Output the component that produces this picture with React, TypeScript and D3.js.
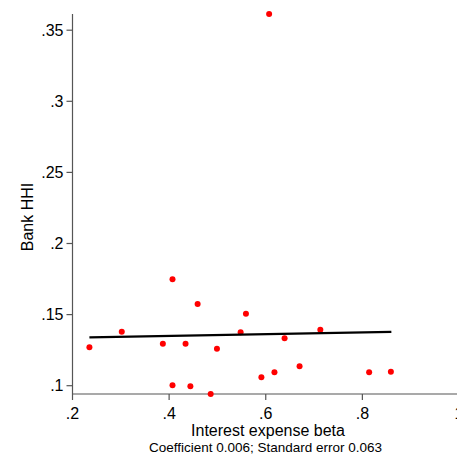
import React from "react";
import * as d3 from "d3";

// interest expense beta vs bank HHI, one dot per group
const betaVals = [0.235, 0.302, 0.387, 0.407, 0.434, 0.459, 0.499, 0.407, 0.444, 0.486,
  0.559, 0.548, 0.713, 0.639, 0.591, 0.618, 0.670, 0.814, 0.859, 0.607];
const hhiVals = [0.1270, 0.1380, 0.1295, 0.1748, 0.1295, 0.1575, 0.1260, 0.1003, 0.0996, 0.0942,
  0.1506, 0.1376, 0.1394, 0.1333, 0.1059, 0.1094, 0.1136, 0.1094, 0.1098, 0.3614];

const xTicks = [0.2, 0.4, 0.6, 0.8, 1];
const yTicks = [0.1, 0.15, 0.2, 0.25, 0.3, 0.35];

// fitted line: coefficient 0.006
const fitX = [0.235, 0.86];
const fitY = [0.1340, 0.1378];

const fmt = (v: number) => (v >= 1 ? String(v) : String(v).replace(/^0/, ""));

export default function App() {
  const W = 457, H = 462;
  const x = d3.scaleLinear().domain([0.2, 1]).range([72.5, 459]);
  const y = d3.scaleLinear().domain([0.1, 0.35]).range([385.7, 30.2]);
  const yBottom = 394;
  const yTop = 14;
  const font = "'Liberation Sans', Arial, sans-serif";

  const line = d3.line<number>().x((d) => x(d)).y((_, i) => y(fitY[i]));

  return (
    <svg width={W} height={H} style={{ position: "absolute", left: 0, top: 0, background: "#fff" }}>
      <rect width={W} height={H} fill="#fff" />
      {/* axes */}
      <line x1={x(0.2)} x2={x(0.2)} y1={yTop} y2={yBottom} stroke="#555" strokeWidth={1.2} />
      <line x1={x(0.2)} x2={W} y1={yBottom} y2={yBottom} stroke="#555" strokeWidth={1.2} />
      {yTicks.map((t) => (
        <g key={"y" + t}>
          <line x1={x(0.2) - 6} x2={x(0.2)} y1={y(t)} y2={y(t)} stroke="#555" strokeWidth={1.2} />
          <text x={x(0.2) - 9} y={y(t)} dy="0.35em" textAnchor="end" fontSize={16} fontFamily={font} fill="#000">
            {fmt(t)}
          </text>
        </g>
      ))}
      {xTicks.map((t) => (
        <g key={"x" + t}>
          <line x1={x(t)} x2={x(t)} y1={yBottom} y2={yBottom + 6} stroke="#555" strokeWidth={1.2} />
          <text x={x(t)} y={yBottom + 25} textAnchor="middle" fontSize={16} fontFamily={font} fill="#000">
            {fmt(t)}
          </text>
        </g>
      ))}
      <text x={268} y={436} textAnchor="middle" fontSize={16} fontFamily={font} fill="#000">
        Interest expense beta
      </text>
      <text x={265.5} y={452} textAnchor="middle" fontSize={13.5} fontFamily={font} fill="#000">
        Coefficient 0.006; Standard error 0.063
      </text>
      <text transform={`translate(33,217) rotate(-90)`} textAnchor="middle" fontSize={16} fontFamily={font} fill="#000">
        Bank HHI
      </text>
      {/* scatter */}
      {betaVals.map((b, i) => (
        <circle key={i} cx={x(b)} cy={y(hhiVals[i])} r={3} fill="#ff0000" />
      ))}
      {/* fit */}
      <path d={line(fitX) || ""} fill="none" stroke="#000" strokeWidth={2.2} />
    </svg>
  );
}
